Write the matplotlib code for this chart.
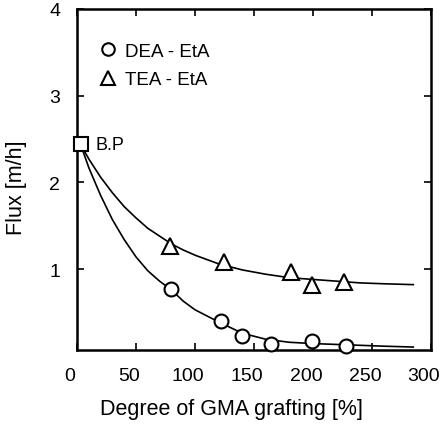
import numpy as np
import matplotlib
matplotlib.use('Agg')
from matplotlib import pyplot as plt
from matplotlib.transforms import ScaledTranslation

plt.rcParams['font.family'] = ['Liberation Sans', 'DejaVu Sans']

# measured points
dea_x = [80, 122, 140, 164, 199, 228]
dea_y = [0.77, 0.40, 0.23, 0.13, 0.17, 0.115]
tea_x = [79, 125, 181, 199, 226]
tea_y = [1.27, 1.08, 0.97, 0.82, 0.85]
bp_x = [3]
bp_y = [2.44]

# fitted lines
fit_x = [3, 10, 20, 30, 40, 50, 60, 70, 80, 90, 100, 120, 140, 160, 180, 200, 220, 240, 260, 285]
dea_fit = [2.44, 2.17, 1.85, 1.57, 1.34, 1.14, 0.98, 0.86, 0.76, 0.63, 0.53, 0.39, 0.26, 0.19, 0.155, 0.14, 0.13, 0.12, 0.11, 0.10]
tea_fit = [2.44, 2.27, 2.06, 1.88, 1.72, 1.59, 1.47, 1.38, 1.29, 1.22, 1.16, 1.06, 0.99, 0.94, 0.90, 0.88, 0.86, 0.84, 0.83, 0.82]

fig = plt.figure(figsize=(4.44, 4.27), dpi=100)
ax = fig.add_axes([0.1734, 0.178, 0.7973, 0.7986])

ax.plot(fit_x, dea_fit, 'k-', lw=1.2)
ax.plot(fit_x, tea_fit, 'k-', lw=1.2)
p1, = ax.plot(dea_x, dea_y, 'o', ms=10, mfc='white', mec='black', mew=1.5, clip_on=False, zorder=5)
p2, = ax.plot(tea_x, tea_y, '^', ms=11.5, mfc='white', mec='black', mew=1.5, clip_on=False, zorder=5)
ax.plot(bp_x, bp_y, 's', ms=10, mfc='white', mec='black', mew=1.5, clip_on=False, zorder=6)
ax.text(16, 2.44, 'B.P', fontsize=13, va='center', ha='left')

ax.legend([p1, p2], ['DEA - EtA', 'TEA - EtA'], loc='upper left',
          bbox_to_anchor=(0.02, 0.95), frameon=False, fontsize=13.5, handlelength=0.8,
          handletextpad=0.5, labelspacing=0.6, markerscale=0.9)

ax.set_xlim(0, 300)
ax.set_ylim(0.066, 4)
ax.set_xticks([0, 50, 100, 150, 200, 250, 300])
ax.set_yticks([1, 2, 3, 4])
ax.tick_params(direction='in', top=True, right=True, length=5, width=1.2,
               labelsize=14, pad=12)
# the printed tick numbers sit a bit left of their ticks
shift = ScaledTranslation(-7 / 100, 0, fig.dpi_scale_trans)
for lab in ax.get_xticklabels():
    lab.set_transform(lab.get_transform() + shift)
for s in ax.spines.values():
    s.set_linewidth(1.8)

ax.set_xlabel('Degree of GMA grafting [%]', fontsize=15.5)
ax.set_ylabel('Flux [m/h]', fontsize=15.5)
ax.xaxis.set_label_coords(0.435, -0.14)
ax.yaxis.set_label_coords(-0.14, 0.48)

fig.savefig('out.png', dpi=100)
